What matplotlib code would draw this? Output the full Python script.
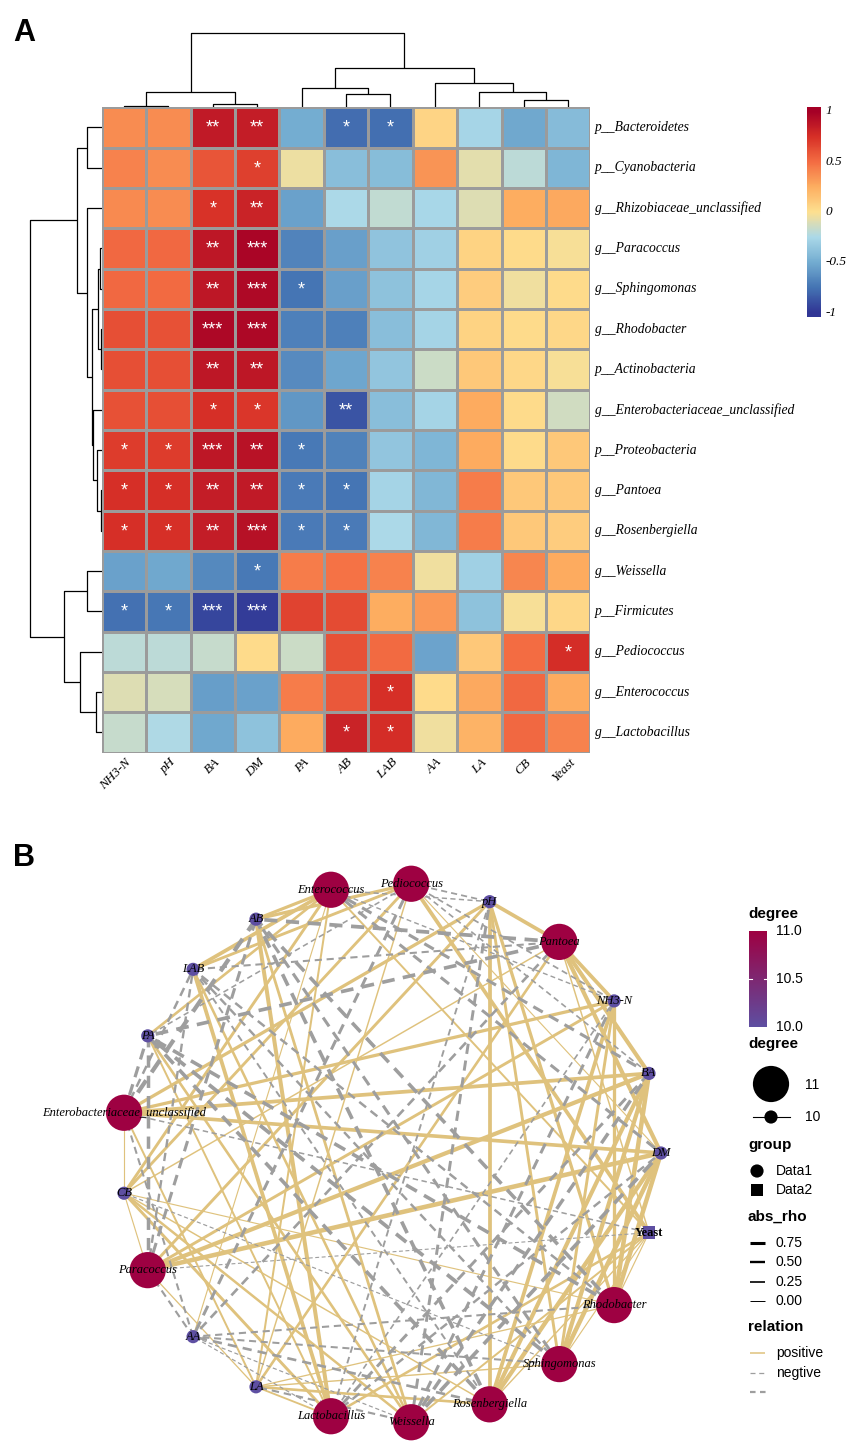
import numpy as np
import matplotlib
matplotlib.use("Agg")
import matplotlib.pyplot as plt
from matplotlib.colors import LinearSegmentedColormap

# ---------------- data ----------------
env_vars = ["NH3-N", "pH", "BA", "DM", "PA", "AB", "LAB", "AA", "LA", "CB", "Yeast"]
taxa = ["p__Bacteroidetes", "p__Cyanobacteria", "g__Rhizobiaceae_unclassified",
        "g__Paracoccus", "g__Sphingomonas", "g__Rhodobacter", "p__Actinobacteria",
        "g__Enterobacteriaceae_unclassified", "p__Proteobacteria", "g__Pantoea",
        "g__Rosenbergiella", "g__Weissella", "p__Firmicutes", "g__Pediococcus",
        "g__Enterococcus", "g__Lactobacillus"]

rho = np.array([
    [0.38, 0.38, 0.86, 0.85, -0.50, -0.78, -0.77, 0.06, -0.27, -0.52, -0.42],
    [0.42, 0.38, 0.60, 0.68, -0.05, -0.40, -0.41, 0.35, -0.08, -0.20, -0.45],
    [0.39, 0.38, 0.74, 0.82, -0.55, -0.25, -0.18, -0.26, -0.10, 0.25, 0.27],
    [0.52, 0.52, 0.88, 0.97, -0.68, -0.56, -0.37, -0.30, 0.07, 0.03, -0.02],
    [0.52, 0.51, 0.88, 0.95, -0.75, -0.56, -0.38, -0.27, 0.10, -0.04, 0.03],
    [0.62, 0.61, 0.96, 0.96, -0.70, -0.70, -0.40, -0.28, 0.07, 0.03, 0.04],
    [0.62, 0.62, 0.88, 0.88, -0.65, -0.53, -0.36, -0.15, 0.12, 0.04, -0.02],
    [0.61, 0.62, 0.75, 0.72, -0.60, -0.88, -0.40, -0.28, 0.26, 0.03, -0.14],
    [0.70, 0.70, 0.88, 0.90, -0.73, -0.69, -0.36, -0.45, 0.26, 0.03, 0.12],
    [0.75, 0.75, 0.85, 0.86, -0.72, -0.75, -0.28, -0.44, 0.44, 0.12, 0.12],
    [0.75, 0.75, 0.85, 0.91, -0.72, -0.72, -0.25, -0.44, 0.44, 0.12, 0.10],
    [-0.55, -0.52, -0.66, -0.73, 0.44, 0.48, 0.42, -0.04, -0.30, 0.40, 0.26],
    [-0.76, -0.74, -0.93, -0.97, 0.67, 0.64, 0.25, 0.33, -0.38, -0.02, 0.04],
    [-0.20, -0.20, -0.17, 0.03, -0.15, 0.61, 0.51, -0.54, 0.12, 0.50, 0.76],
    [-0.10, -0.12, -0.57, -0.55, 0.44, 0.58, 0.75, 0.03, 0.27, 0.52, 0.26],
    [-0.17, -0.24, -0.52, -0.38, 0.26, 0.82, 0.76, -0.04, 0.22, 0.52, 0.42],
])

stars = [
    ["", "", "**", "**", "", "*", "*", "", "", "", ""],
    ["", "", "", "*", "", "", "", "", "", "", ""],
    ["", "", "*", "**", "", "", "", "", "", "", ""],
    ["", "", "**", "***", "", "", "", "", "", "", ""],
    ["", "", "**", "***", "*", "", "", "", "", "", ""],
    ["", "", "***", "***", "", "", "", "", "", "", ""],
    ["", "", "**", "**", "", "", "", "", "", "", ""],
    ["", "", "*", "*", "", "**", "", "", "", "", ""],
    ["*", "*", "***", "**", "*", "", "", "", "", "", ""],
    ["*", "*", "**", "**", "*", "*", "", "", "", "", ""],
    ["*", "*", "**", "***", "*", "*", "", "", "", "", ""],
    ["", "", "", "*", "", "", "", "", "", "", ""],
    ["*", "*", "***", "***", "", "", "", "", "", "", ""],
    ["", "", "", "", "", "", "", "", "", "", "*"],
    ["", "", "", "", "", "", "*", "", "", "", ""],
    ["", "", "", "", "", "*", "*", "", "", "", ""],
]

# dendrograms: (left, right, merge height)
col_tree = ((("NH3-N", "pH", 1), ("BA", "DM", 3), 15),
            (("PA", ("AB", "LAB", 13), 19), ("AA", ("LA", ("CB", "Yeast", 7), 15), 24), 39), 74)
row_tree = (((0, 1, 15),
             (2, (((3, 4, 2), (5, 6, 1), 3.7), (7, (8, (9, 10, 1), 4.3), 8.7), 9.3), 14.7), 24.3),
            ((11, 12, 14.3), (13, (14, 15, 6), 21.7), 37.7), 72)

heat_colors = ["#313695", "#4575b4", "#74add1", "#abd9e9", "#fee090",
               "#fdae61", "#f46d43", "#d73027", "#a50026"]
cbar_ticks = [1, 0.5, 0, -0.5, -1]
cbar_labels = ["1", "0.5", "0", "-0.5", "-1"]

# network
net_genera = ["Pantoea", "Pediococcus", "Enterococcus", "Enterobacteriaceae_unclassified",
              "Paracoccus", "Lactobacillus", "Weissella", "Rosenbergiella",
              "Sphingomonas", "Rhodobacter"]
circle_order = ["DM", "BA", "NH3-N", "Pantoea", "pH", "Pediococcus", "Enterococcus",
                "AB", "LAB", "PA", "Enterobacteriaceae_unclassified", "CB", "Paracoccus",
                "AA", "LA", "Lactobacillus", "Weissella", "Rosenbergiella",
                "Sphingomonas", "Rhodobacter", "Yeast"]
data2_nodes = ["Yeast"]
absrho_breaks = [0.75, 0.50, 0.25, 0.00]
relation_labels = ["positive", "negtive", ""]

# ---------------- figure ----------------
W, H = 854, 1446
fig = plt.figure(figsize=(W / 100, H / 100), dpi=100)
fig.patch.set_facecolor("white")

def px_axes(x0, y0, x1, y1):
    a = fig.add_axes([x0 / W, 1 - y1 / H, (x1 - x0) / W, (y1 - y0) / H])
    a.set_axis_off()
    return a

serif = ["Liberation Serif", "DejaVu Serif"]
sans = ["Liberation Sans", "DejaVu Sans"]

cmap = LinearSegmentedColormap.from_list("rdylbu9", heat_colors)
nr, nc = rho.shape

# heatmap
HX0, HY0, HX1, HY1 = 101.7, 107.3, 590.4, 752.6
axh = px_axes(HX0, HY0, HX1, HY1)
axh.pcolormesh(np.arange(nc + 1), np.arange(nr + 1), rho, cmap=cmap, vmin=-1, vmax=1,
               edgecolors="#9b9b9b", linewidth=0.9)
axh.set_xlim(0, nc)
axh.set_ylim(nr, 0)
for i in range(nr):
    for j in range(nc):
        if stars[i][j]:
            axh.text(j + 0.5, i + 0.52, stars[i][j], ha="center", va="center",
                     color="white", fontsize=13, family=sans)
    axh.text(nc + 0.11, i + 0.5, taxa[i], ha="left", va="center", fontsize=9.8,
             family=serif, style="italic", clip_on=False)
for j, lab in enumerate(env_vars):
    axh.text(j + 0.62, nr + 0.2, lab, ha="right", va="center", rotation=45,
             rotation_mode="anchor", fontsize=9.5, family=serif, style="italic", clip_on=False)

# dendrograms
def tree_segments(node, leaf_pos, segs):
    if not isinstance(node, tuple):
        return leaf_pos[node], 0.0
    l, r, h = node
    pl, hl = tree_segments(l, leaf_pos, segs)
    pr, hr = tree_segments(r, leaf_pos, segs)
    segs.append(((pl, pl, pr, pr), (hl, h, h, hr)))
    return (pl + pr) / 2, h

col_pos = {n: i + 0.5 for i, n in enumerate(env_vars)}
segs = []
tree_segments(col_tree, col_pos, segs)
axd = px_axes(HX0, 28, HX1, HY0)
for xs, hs in segs:
    axd.plot(xs, hs, color="black", lw=0.9, solid_capstyle="butt")
axd.set_xlim(0, nc)
axd.set_ylim(0, HY0 - 28)

row_pos = {i: i + 0.5 for i in range(nr)}
segs = []
tree_segments(row_tree, row_pos, segs)
axr = px_axes(24, HY0, HX0, HY1)
for ys, hs in segs:
    axr.plot(hs, ys, color="black", lw=0.9, solid_capstyle="butt")
axr.set_xlim(HX0 - 24, 0)
axr.set_ylim(nr, 0)

# colorbar for heatmap
axc = px_axes(807, 107, 820, 317)
grad = np.linspace(1.04, -1.04, 256).reshape(-1, 1)
axc.imshow(grad, cmap=cmap, vmin=-1, vmax=1, aspect="auto", extent=[0, 1, -1.04, 1.04])
axc.set_xlim(0, 1)
axc.set_ylim(-1.04, 1.04)
for t, lab in zip(cbar_ticks, cbar_labels):
    axc.text(1.45, t, lab, ha="left", va="center", fontsize=9.5, family=serif,
             style="italic", clip_on=False)

# ---------------- network ----------------
cx, cy, R = 391.0, 1153.0, 270.0
axn = px_axes(cx - 320, 843, cx + 320, H)
axn.set_xlim(-320 / R, 320 / R)
axn.set_ylim((cy - H) / R, (cy - 843) / R)

n = len(circle_order)
pos = {name: (np.cos(2 * np.pi * k / n), np.sin(2 * np.pi * k / n))
       for k, name in enumerate(circle_order)}

pos_col = "#DFC27D"
neg_col = "#9E9E9E"
def edge_lw(a):
    return 0.75 + 2.6 * a

degree = {name: 0 for name in circle_order}
for g in net_genera:
    row = rho[taxa.index("g__" + g)]
    for j, e in enumerate(env_vars):
        v = row[j]
        degree[g] += 1
        degree[e] += 1
        (x1, y1), (x2, y2) = pos[g], pos[e]
        if v > 0:
            axn.plot([x1, x2], [y1, y2], color=pos_col, lw=edge_lw(abs(v)),
                     solid_capstyle="butt", zorder=1)
        else:
            axn.plot([x1, x2], [y1, y2], color=neg_col, lw=edge_lw(abs(v)),
                     ls=(0, (3.5, 2.3)), dash_capstyle="butt", zorder=2)

deg_lo, deg_hi = 10, 11
node_cmap = LinearSegmentedColormap.from_list("deg", ["#5E4FA2", "#9E0142"])
for name in circle_order:
    d = degree[name]
    x, y = pos[name]
    s = 680 if d >= deg_hi else 90
    mk = "s" if name in data2_nodes else "o"
    if mk == "s":
        s = 80
    axn.scatter([x], [y], s=s, marker=mk, color=node_cmap((d - deg_lo) / (deg_hi - deg_lo)),
                edgecolors="none", zorder=3)
    if name in data2_nodes:
        axn.text(x, y, name, ha="center", va="center", fontsize=9, family=serif,
                 weight="bold", zorder=4, clip_on=False)
    else:
        axn.text(x, y, name, ha="center", va="center", fontsize=9, family=serif,
                 style="italic", zorder=4, clip_on=False)

# ---------------- legend / labels overlay ----------------
axo = px_axes(0, 0, W, H)
axo.set_xlim(0, W)
axo.set_ylim(H, 0)
axo.text(13, 33, "A", fontsize=22, weight="bold", family=sans, ha="left", va="center")
axo.text(13, 858, "B", fontsize=22, weight="bold", family=sans, ha="left", va="center")

tfs, lfs = 11, 10
axo.text(748, 914, "degree", fontsize=tfs, weight="bold", family=sans, ha="left", va="center")
axdc = px_axes(749, 931, 767, 1027)
dgrad = np.linspace(deg_hi, deg_lo, 256).reshape(-1, 1)
axdc.imshow(dgrad, cmap=node_cmap, vmin=deg_lo, vmax=deg_hi, aspect="auto",
            extent=[0, 1, deg_lo, deg_hi])
axdc.set_xlim(0, 1)
axdc.set_ylim(deg_lo, deg_hi)
mid = (deg_lo + deg_hi) / 2
axdc.plot([0, 0.18], [mid, mid], color="white", lw=0.8)
axdc.plot([0.82, 1], [mid, mid], color="white", lw=0.8)
for v in [deg_hi, mid, deg_lo]:
    axdc.text(1.5, v, f"{v:.1f}", ha="left", va="center", fontsize=lfs, family=sans,
              clip_on=False)

axo.text(748, 1044, "degree", fontsize=tfs, weight="bold", family=sans, ha="left", va="center")
axo.scatter([771], [1084], s=680, color="black", edgecolors="none")
axo.text(805, 1085, "11", fontsize=lfs, family=sans, ha="left", va="center")
axo.plot([753, 790], [1117, 1117], color="black", lw=0.8)
axo.scatter([771], [1117], s=90, color="black", edgecolors="none")
axo.text(805, 1117, "10", fontsize=lfs, family=sans, ha="left", va="center")

axo.text(748, 1145, "group", fontsize=tfs, weight="bold", family=sans, ha="left", va="center")
axo.scatter([757], [1171], s=90, marker="o", color="black", edgecolors="none")
axo.text(776, 1171, "Data1", fontsize=lfs, family=sans, ha="left", va="center")
axo.scatter([757], [1190], s=80, marker="s", color="black", edgecolors="none")
axo.text(776, 1190, "Data2", fontsize=lfs, family=sans, ha="left", va="center")

axo.text(748, 1217, "abs_rho", fontsize=tfs, weight="bold", family=sans, ha="left", va="center")
for k, b in enumerate(absrho_breaks):
    yy = 1243 + k * 19.3
    axo.plot([750, 765], [yy, yy], color="black", lw=0.7 + 2.0 * b, solid_capstyle="butt")
    axo.text(776, yy, f"{b:.2f}", fontsize=lfs, family=sans, ha="left", va="center")

axo.text(748, 1327, "relation", fontsize=tfs, weight="bold", family=sans, ha="left", va="center")
axo.plot([750, 765], [1353, 1353], color=pos_col, lw=1.1, solid_capstyle="butt")
axo.text(776, 1353, relation_labels[0], fontsize=lfs, family=sans, ha="left", va="center")
axo.plot([750, 766], [1373, 1373], color=neg_col, lw=0.9, ls=(0, (4, 3)), dash_capstyle="butt")
axo.text(776, 1373, relation_labels[1], fontsize=lfs, family=sans, ha="left", va="center")
axo.plot([750, 766], [1392, 1392], color=neg_col, lw=1.6, ls=(0, (2.5, 2)), dash_capstyle="butt")
axo.text(776, 1392, relation_labels[2], fontsize=lfs, family=sans, ha="left", va="center")

fig.savefig("out.png", dpi=100, facecolor="white")
